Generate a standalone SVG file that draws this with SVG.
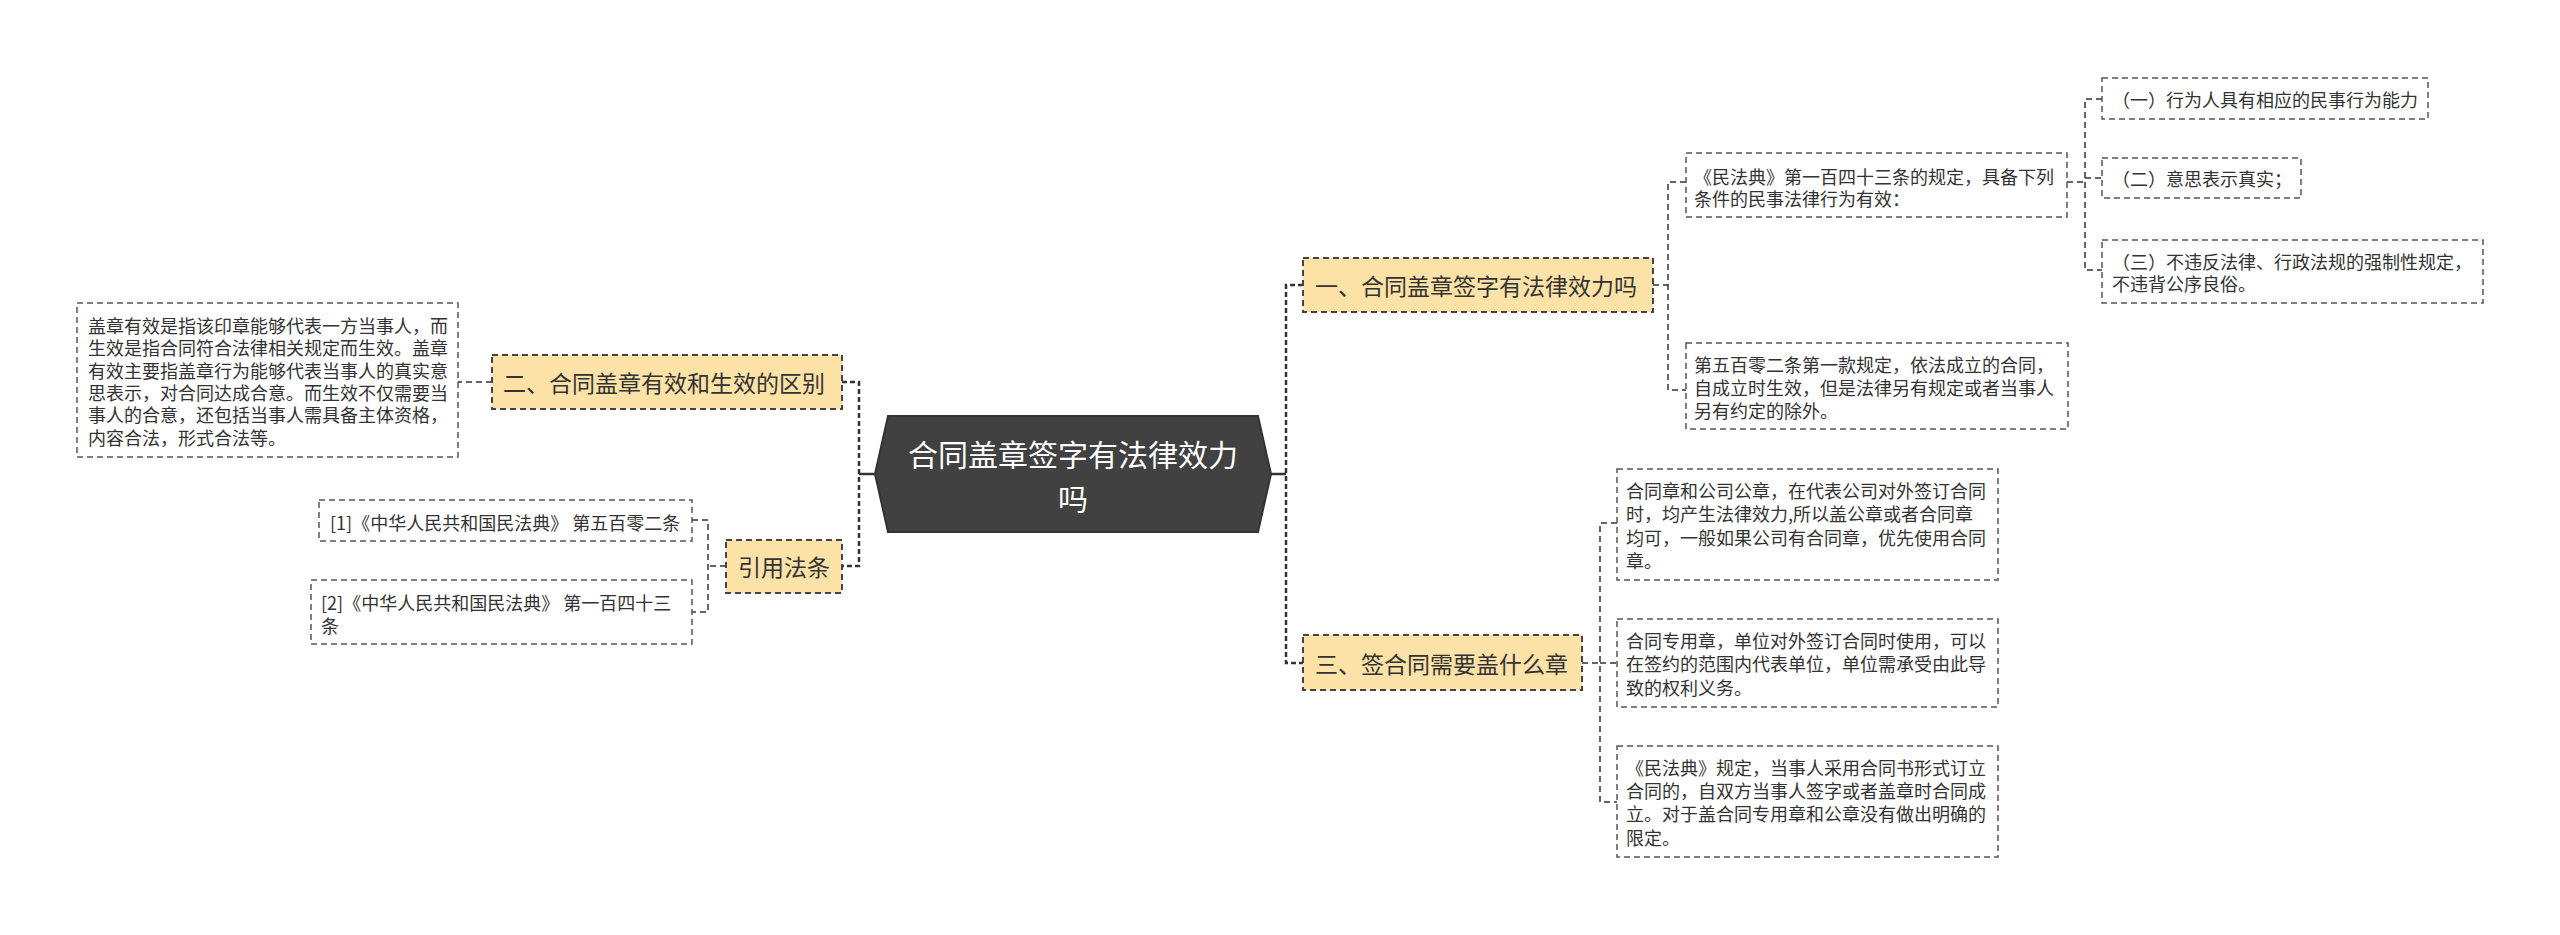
<svg xmlns="http://www.w3.org/2000/svg" width="2560" height="935" viewBox="0 0 2560 935">
<style>
text{font-family:"Microsoft YaHei","Noto Sans CJK SC","Noto Sans",sans-serif;fill:#333;dominant-baseline:central}
.leaf{fill:#fff;stroke:#555;stroke-width:1.5;stroke-dasharray:6 4}
.main{fill:#FCE2A6;stroke:#444;stroke-width:2;stroke-dasharray:6 4}
.t18{font-size:18px}
.t23{font-size:23px}
.conn path{fill:none;stroke:#333;stroke-width:1.5;stroke-dasharray:6 4}
.conn path.thick{stroke-width:2.5;stroke-dasharray:5 3}
.conn path.solid{stroke-dasharray:none;stroke-width:2.5}
</style>
<rect width="2560" height="935" fill="#fff"/>
<g class="conn" id="connectors">
<path class="solid" d="M875 474H859"/>
<path class="thick" d="M842 382H859V566H842"/>
<path d="M492 382H458"/>
<path d="M726 566H708M692 520H708V612H692"/>
<path class="solid" d="M1271 474H1286"/>
<path class="thick" d="M1303 285H1286V663H1303"/>
<path d="M1653 285H1668M1686 182H1668V390H1686"/>
<path d="M2067 182H2085M2102 99H2085V270H2102M2085 178H2102"/>
<path d="M1582 663H1600M1617 523H1600V802H1617M1600 663H1617"/>
</g>
<g id="center">
<polygon points="875,474 888,416 1258,416 1271,474 1258,532 888,532" fill="#414141" stroke="#333" stroke-width="2"/>
<text x="1073" y="453" font-size="30" text-anchor="middle" style="fill:#fff">合同盖章签字有法律效力</text>
<text x="1073" y="497" font-size="30" text-anchor="middle" style="fill:#fff">吗</text>
</g>
<g id="n-er">
<rect class="main" x="492" y="355" width="350" height="54"/>
<text class="t23" x="503" y="382">二、合同盖章有效和生效的区别</text>
</g>
<g id="n-er-1">
<rect class="leaf" x="77" y="303" width="381" height="154"/>
<text class="t18" x="88"><tspan x="88" y="325">盖章有效是指该印章能够代表一方当事人，而</tspan><tspan x="88" y="347">生效是指合同符合法律相关规定而生效。盖章</tspan><tspan x="88" y="370">有效主要指盖章行为能够代表当事人的真实意</tspan><tspan x="88" y="392">思表示，对合同达成合意。而生效不仅需要当</tspan><tspan x="88" y="414">事人的合意，还包括当事人需具备主体资格，</tspan><tspan x="88" y="437">内容合法，形式合法等。</tspan></text>
</g>
<g id="n-yin">
<rect class="main" x="726" y="540" width="116" height="53"/>
<text class="t23" x="784" y="566" text-anchor="middle">引用法条</text>
</g>
<g id="n-yin-1">
<rect class="leaf" x="319" y="500" width="373" height="41"/>
<text class="t18" x="330" y="522">[1]《中华人民共和国民法典》 第五百零二条</text>
</g>
<g id="n-yin-2">
<rect class="leaf" x="311" y="580" width="381" height="64"/>
<text class="t18"><tspan x="321" y="602">[2]《中华人民共和国民法典》 第一百四十三</tspan><tspan x="321" y="625">条</tspan></text>
</g>
<g id="n-yi">
<rect class="main" x="1303" y="258" width="350" height="54"/>
<text class="t23" x="1315" y="285">一、合同盖章签字有法律效力吗</text>
</g>
<g id="n-yi-1">
<rect class="leaf" x="1686" y="153" width="381" height="64"/>
<text class="t18"><tspan x="1694" y="176">《民法典》第一百四十三条的规定，具备下列</tspan><tspan x="1694" y="198">条件的民事法律行为有效：</tspan></text>
</g>
<g id="n-yi-1-1">
<rect class="leaf" x="2102" y="78" width="326" height="41"/>
<text class="t18" x="2112" y="99">（一）行为人具有相应的民事行为能力</text>
</g>
<g id="n-yi-1-2">
<rect class="leaf" x="2102" y="158" width="199" height="40"/>
<text class="t18" x="2112" y="178">（二）意思表示真实；</text>
</g>
<g id="n-yi-1-3">
<rect class="leaf" x="2102" y="240" width="381" height="63"/>
<text class="t18"><tspan x="2112" y="261">（三）不违反法律、行政法规的强制性规定，</tspan><tspan x="2112" y="283">不违背公序良俗。</tspan></text>
</g>
<g id="n-yi-2">
<rect class="leaf" x="1686" y="343" width="382" height="86"/>
<text class="t18"><tspan x="1694" y="364">第五百零二条第一款规定，依法成立的合同，</tspan><tspan x="1694" y="387">自成立时生效，但是法律另有规定或者当事人</tspan><tspan x="1694" y="410">另有约定的除外。</tspan></text>
</g>
<g id="n-san">
<rect class="main" x="1303" y="635" width="279" height="55"/>
<text class="t23" x="1315" y="663">三、签合同需要盖什么章</text>
</g>
<g id="n-san-1">
<rect class="leaf" x="1617" y="469" width="381" height="111"/>
<text class="t18"><tspan x="1626" y="490">合同章和公司公章，在代表公司对外签订合同</tspan><tspan x="1626" y="513">时，均产生法律效力,所以盖公章或者合同章</tspan><tspan x="1626" y="537">均可，一般如果公司有合同章，优先使用合同</tspan><tspan x="1626" y="560">章。</tspan></text>
</g>
<g id="n-san-2">
<rect class="leaf" x="1617" y="619" width="381" height="88"/>
<text class="t18"><tspan x="1626" y="640">合同专用章，单位对外签订合同时使用，可以</tspan><tspan x="1626" y="663">在签约的范围内代表单位，单位需承受由此导</tspan><tspan x="1626" y="687">致的权利义务。</tspan></text>
</g>
<g id="n-san-3">
<rect class="leaf" x="1617" y="746" width="381" height="111"/>
<text class="t18"><tspan x="1626" y="767">《民法典》规定，当事人采用合同书形式订立</tspan><tspan x="1626" y="790">合同的，自双方当事人签字或者盖章时合同成</tspan><tspan x="1626" y="813">立。对于盖合同专用章和公章没有做出明确的</tspan><tspan x="1626" y="837">限定。</tspan></text>
</g>
</svg>
